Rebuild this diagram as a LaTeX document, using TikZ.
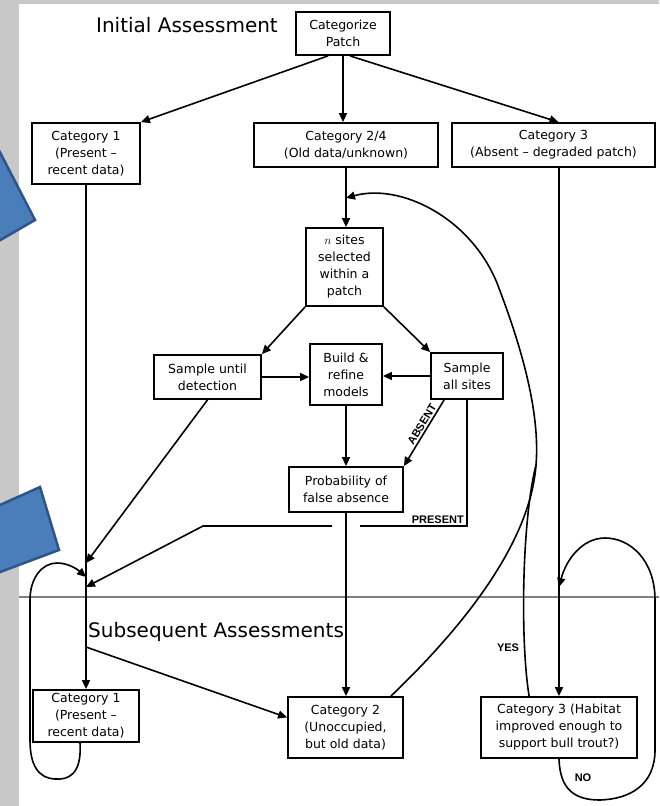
\documentclass[tikz,border=0pt]{standalone}
\usepackage{fontspec}
\setmainfont{DejaVu Sans}
\newfontfamily\labelfont{Liberation Sans}
\usetikzlibrary{arrows.meta,calc}
\definecolor{panelgray}{RGB}{200,200,200}
\definecolor{arrowblue}{RGB}{74,126,187}
\definecolor{arrowedge}{RGB}{46,84,140}
\definecolor{divider}{RGB}{128,128,128}

\begin{document}
\begin{tikzpicture}[x=1pt,y=-1pt,
  box/.style={draw=black, line width=1.8pt, align=center, inner sep=0pt,
    font=\fontsize{12.5}{17}\selectfont},
  conn/.style={line width=1.6pt},
  arr/.style={conn, -{Triangle[length=9pt,width=8pt]}},
  tag/.style={font=\labelfont\bfseries\fontsize{11}{13}\selectfont, inner sep=1pt},
  heading/.style={font=\fontsize{20}{24}\selectfont, inner sep=0pt},
  callout/.style={fill=arrowblue, draw=arrowedge, line width=2.5pt, line join=miter}
]
\useasboundingbox (0,0) rectangle (659,806);
\clip (0,0) rectangle (659,806);

% backdrop and sheet
\fill[panelgray] (0,0) rectangle (659,806);
\fill[white] (19,4) rectangle (659,806);

% divider between the two assessment stages
\draw[divider, line width=2.5pt] (19,597) -- (659,597);

% headings
\node[heading] (t1) at (187,25) {Initial Assessment};
\node[heading, anchor=west] (t2) at (88,632) {Subsequent Assessments};

% boxes
\node[box, minimum width=94pt, minimum height=43pt] (cat) at (343,33.5) {Categorize\\Patch};
\node[box, minimum width=108pt, minimum height=61pt] (c1a) at (86,153.5) {Category 1\\(Present –\\recent data)};
\node[box, minimum width=184pt, minimum height=44pt] (c24) at (346,145) {Category 2/4\\(Old data/unknown)};
\node[box, minimum width=203pt, minimum height=44pt] (c3a) at (553.5,145) {Category 3\\(Absent – degraded patch)};
\node[box, minimum width=77pt, minimum height=78pt] (ns) at (344.5,267) {$n$ sites\\selected\\within a\\patch};
\node[box, minimum width=107pt, minimum height=44pt] (sud) at (207.5,377) {Sample until\\detection};
\node[box, minimum width=72pt, minimum height=61pt] (brm) at (346,374.5) {Build \&\\refine\\models};
\node[box, minimum width=72pt, minimum height=46pt] (sas) at (467,376) {Sample\\all sites};
\node[box, minimum width=114pt, minimum height=45pt] (pfa) at (346,489.5) {Probability of\\false absence};
\node[box, minimum width=106pt, minimum height=52pt] (c1b) at (86,716) {Category 1\\(Present –\\recent data)};
\node[box, minimum width=115pt, minimum height=61pt] (c2b) at (345.5,727.5) {Category 2\\(Unoccupied,\\but old data)};
\node[box, minimum width=156pt, minimum height=61pt] (c3b) at (559,727.5) {Category 3 (Habitat\\improved enough to\\support bull trout?)};

% junction points on the trunk lines
\coordinate (j1) at (86,563);
\coordinate (j0) at (86,577);
\coordinate (j2) at (86,587);
\coordinate (j3) at (86,647);
\coordinate (j4) at (559,587);
\coordinate (j5) at (346,198);
\coordinate (m) at (536,465);
\coordinate (pr) at (467,526);

% initial categorisation
\draw[arr] ([xshift=-15pt]cat.south) -- (c1a.north east);
\draw[arr] (cat.south) -- (cat.south |- c24.north);
\draw[arr] ([xshift=7pt]cat.south) -- ([xshift=5pt]c3a.north);

% sampling design
\draw[arr] (c24.south) -- (c24.south |- ns.north);
\draw[arr] (ns.south west) -- (sud.north east);
\draw[arr] (ns.south east) -- (sas.north west);
\draw[arr] (sud.east) -- (sud.east -| brm.west);
\draw[arr] (sas.west) -- (sas.west -| brm.east);
\draw[arr] (brm.south) -- (brm.south |- pfa.north);
\draw[arr] ([xshift=14pt]sas.south west) -- node[tag, sloped, above, pos=0.42, inner sep=1.5pt] {ABSENT} (pfa.north east);

% results feeding the category 1 trunk
\draw[arr] (sud.south) -- (j1);
\draw[arr] (sas.south) -- (pr) -- (360,526) (332,526) -- (203,526) -- (j2);
\node[tag, anchor=south east] at ([xshift=-2pt,yshift=1pt]pr) {PRESENT};

% trunks down to the subsequent assessment
\draw[arr] (c1a.south) -- (c1b.north);
\draw[arr] (j3) -- ([yshift=10pt]c2b.west);
\draw[arr] (pfa.south) -- (pfa.south |- c2b.north);
\draw[arr] (c3b.north |- c3a.south) -- (c3b.north);

% category 1 repeat loop
\draw[arr] ([xshift=-6pt]c1b.south) .. controls (82,775) and (68,780) .. (55,779)
  .. controls (38,778) and (30,765) .. (30,740) -- (30,600)
  .. controls (30,578) and (42,563) .. (57,563)
  .. controls (68,563) and (77,569) .. (j0);

% category 3 repeat loop
\draw[arr] (c3b.south) .. controls (560,790) and (575,800) .. (600,800)
  .. controls (630,799) and (655,785) .. (655,750) -- (655,600)
  .. controls (655,560) and (630,538) .. (605,538)
  .. controls (582,538) and (566,560) .. (j4);
\node[tag] at (583,778) {NO};

% return loops back to site selection
\draw[arr] ([xshift=-13pt]c2b.north east) .. controls (460,630) and (530,545) .. (m)
  .. controls (541,405) and (515,330) .. (497,283)
  .. controls (470,217) and (400,183) .. (j5);
\draw[conn] ([xshift=49pt]c3b.north west) .. controls (520,640) and (522,520) .. (m);
\node[tag] at (508,648) {YES};

% blue callout arrows at the left edge
\draw[callout] (-10,133) -- (35,220) -- (-10,246) -- cycle;
\draw[callout] (-20,514) -- (40,487) -- (59,550) -- (-20,579.5) -- cycle;
\end{tikzpicture}
\end{document}
